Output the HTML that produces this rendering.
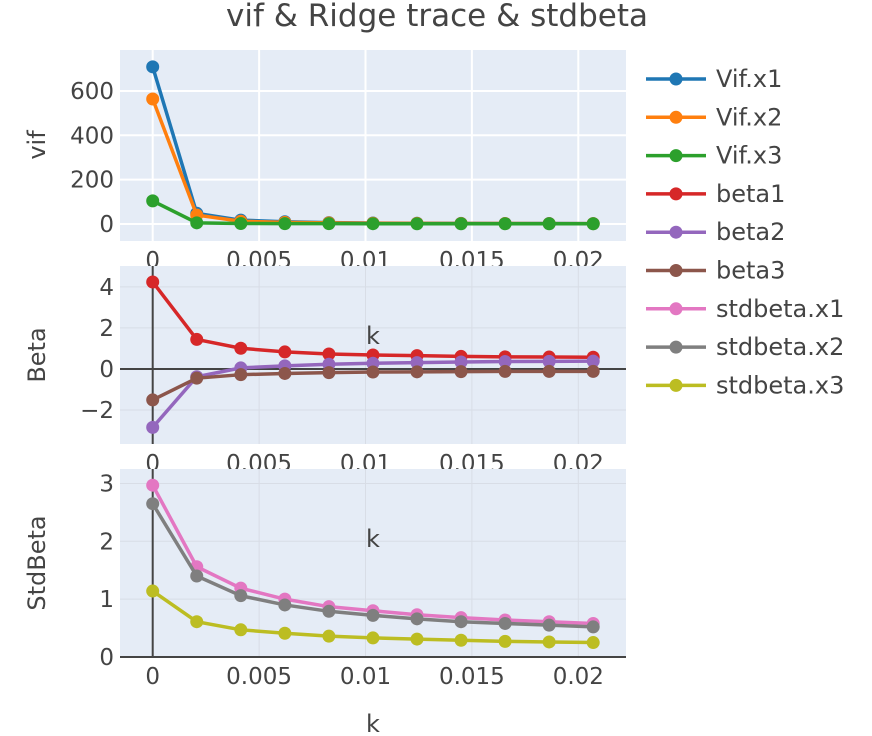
<!DOCTYPE html>
<html><head><meta charset="utf-8"><style>
body{margin:0;background:#fff;width:872px;height:736px;overflow:hidden}
svg{display:block;font-family:"DejaVu Sans","Liberation Sans",sans-serif}
</style></head><body>
<svg id="chart" width="872" height="736" viewBox="0 0 872 736"></svg>
<script>
const kValues=[0,0.00207,0.00414,0.00621,0.00828,0.01035,0.01242,0.01449,0.01656,0.01863,0.0207];
const vifX1=[709,48,17,10,6,4,3,2.5,2,1.8,1.6];
const vifX2=[564,40,12,7,5,3,2.5,2,1.8,1.6,1.4];
const vifX3=[104,5,2,1.5,1.2,1.1,1,1,1,1,1];
const beta1=[4.24,1.44,1.01,0.83,0.73,0.68,0.65,0.61,0.59,0.58,0.57];
const beta2=[-2.85,-0.38,0.05,0.15,0.23,0.28,0.31,0.34,0.36,0.37,0.38];
const beta3=[-1.51,-0.45,-0.28,-0.22,-0.18,-0.15,-0.14,-0.13,-0.12,-0.12,-0.12];
const stdX1=[2.97,1.56,1.19,1.00,0.87,0.80,0.73,0.68,0.64,0.61,0.58];
const stdX2=[2.65,1.40,1.06,0.90,0.79,0.72,0.66,0.61,0.58,0.55,0.52];
const stdX3=[1.14,0.61,0.47,0.41,0.36,0.33,0.31,0.29,0.27,0.26,0.25];
const xTicks=[0,0.005,0.01,0.015,0.02];
const xTickLabels=["0","0.005","0.01","0.015","0.02"];
const vifTicks=[0,200,400,600];
const betaTicks=[-2,0,2,4];
const betaTickLabels=["\u22122","0","2","4"];
const stdTicks=[0,1,2,3];

const NS="http://www.w3.org/2000/svg";
const svg=document.getElementById('chart');
function el(tag,attrs,parent,text){const e=document.createElementNS(NS,tag);for(const k in attrs)e.setAttribute(k,attrs[k]);if(text!==undefined)e.textContent=text;(parent||svg).appendChild(e);return e;}
const X0=120,X1=626;
function xs(v){return 152.7+v*21280;}
const panels=[
 {name:'vif',top:50,bot:241,min:-77,max:785,ticks:vifTicks,labels:vifTicks.map(String),grid:'#fff',gw:2,title:'vif',tcy:145,zeroDark:false,
  series:[['vif-x1',vifX1,'#1f77b4'],['vif-x2',vifX2,'#ff7f0e'],['vif-x3',vifX3,'#2ca02c']]},
 {name:'beta',top:266,bot:444,min:-3.66,max:5.02,ticks:betaTicks,labels:betaTickLabels,grid:'#d8dde6',gw:1,title:'Beta',tcy:355,zeroDark:true,klabel:336,
  series:[['beta1',beta1,'#d62728'],['beta2',beta2,'#9467bd'],['beta3',beta3,'#8c564b']]},
 {name:'stdbeta',top:469,bot:657,min:0,max:3.25,ticks:stdTicks,labels:stdTicks.map(String),grid:'#d8dde6',gw:1,title:'StdBeta',tcy:563,zeroDark:true,klabel:539,
  series:[['stdbeta-x1',stdX1,'#e377c2'],['stdbeta-x2',stdX2,'#7f7f7f'],['stdbeta-x3',stdX3,'#bcbd22']]}
];
el('text',{x:437,y:26,'text-anchor':'middle','font-size':31,fill:'#444',},svg,'vif & Ridge trace & stdbeta');
panels.forEach(p=>{
  const g=el('g',{});
  const ys=v=>p.bot-(v-p.min)/(p.max-p.min)*(p.bot-p.top);
  el('rect',{x:X0,y:p.top,width:X1-X0,height:p.bot-p.top,fill:'#e5ecf6',},g);
  xTicks.forEach(t=>{if(t===0&&p.zeroDark)return;el('line',{x1:xs(t),x2:xs(t),y1:p.top,y2:p.bot,stroke:p.grid,'stroke-width':p.gw,},g);});
  p.ticks.forEach(t=>{if(t===0&&p.zeroDark)return;el('line',{x1:X0,x2:X1,y1:ys(t),y2:ys(t),stroke:p.grid,'stroke-width':p.gw,},g);});
  if(p.zeroDark){
    el('line',{x1:xs(0),x2:xs(0),y1:p.top,y2:p.bot,stroke:'#444','stroke-width':2,},g);
    el('line',{x1:X0,x2:X1,y1:ys(0),y2:ys(0),stroke:'#444','stroke-width':2,},g);
  }
  p.ticks.forEach((t,i)=>el('text',{x:114,y:ys(t)+8,'text-anchor':'end','font-size':23,fill:'#444',},g,p.labels[i]));
  xTicks.forEach((t,i)=>el('text',{x:xs(t),y:p.bot+27,'text-anchor':'middle','font-size':23,fill:'#444',},g,xTickLabels[i]));
  el('text',{x:0,y:0,transform:`translate(45,${p.tcy}) rotate(-90)`,'text-anchor':'middle','font-size':24,fill:'#444',},g,p.title);
  if(p.klabel)el('text',{x:373,y:p.klabel+8,'text-anchor':'middle','font-size':24,fill:'#444',},g,'k');
  p.series.forEach(s=>{
    const sg=el('g',{},g);
    const pts=kValues.map((k,i)=>xs(k)+','+ys(s[1][i])).join(' ');
    el('polyline',{points:pts,fill:'none',stroke:s[2],'stroke-width':3.5,},sg);
    kValues.forEach((k,i)=>el('circle',{cx:xs(k),cy:ys(s[1][i]),r:6.5,fill:s[2],},sg));
  });
});
el('text',{x:373,y:732,'text-anchor':'middle','font-size':24,fill:'#444',},svg,'k');
const legendNames=['Vif.x1','Vif.x2','Vif.x3','beta1','beta2','beta3','stdbeta.x1','stdbeta.x2','stdbeta.x3'];
const legendColors=['#1f77b4','#ff7f0e','#2ca02c','#d62728','#9467bd','#8c564b','#e377c2','#7f7f7f','#bcbd22'];
const lg=el('g',{});
legendNames.forEach((n,i)=>{
  const y=79+i*38.3;
  const e=el('g',{},lg);
  el('line',{x1:646,x2:706,y1:y,y2:y,stroke:legendColors[i],'stroke-width':3.5},e);
  el('circle',{cx:676,cy:y,r:6.5,fill:legendColors[i]},e);
  el('text',{x:716,y:y+8,'font-size':24,fill:'#444'},e,n);
});
</script>
</body></html>
